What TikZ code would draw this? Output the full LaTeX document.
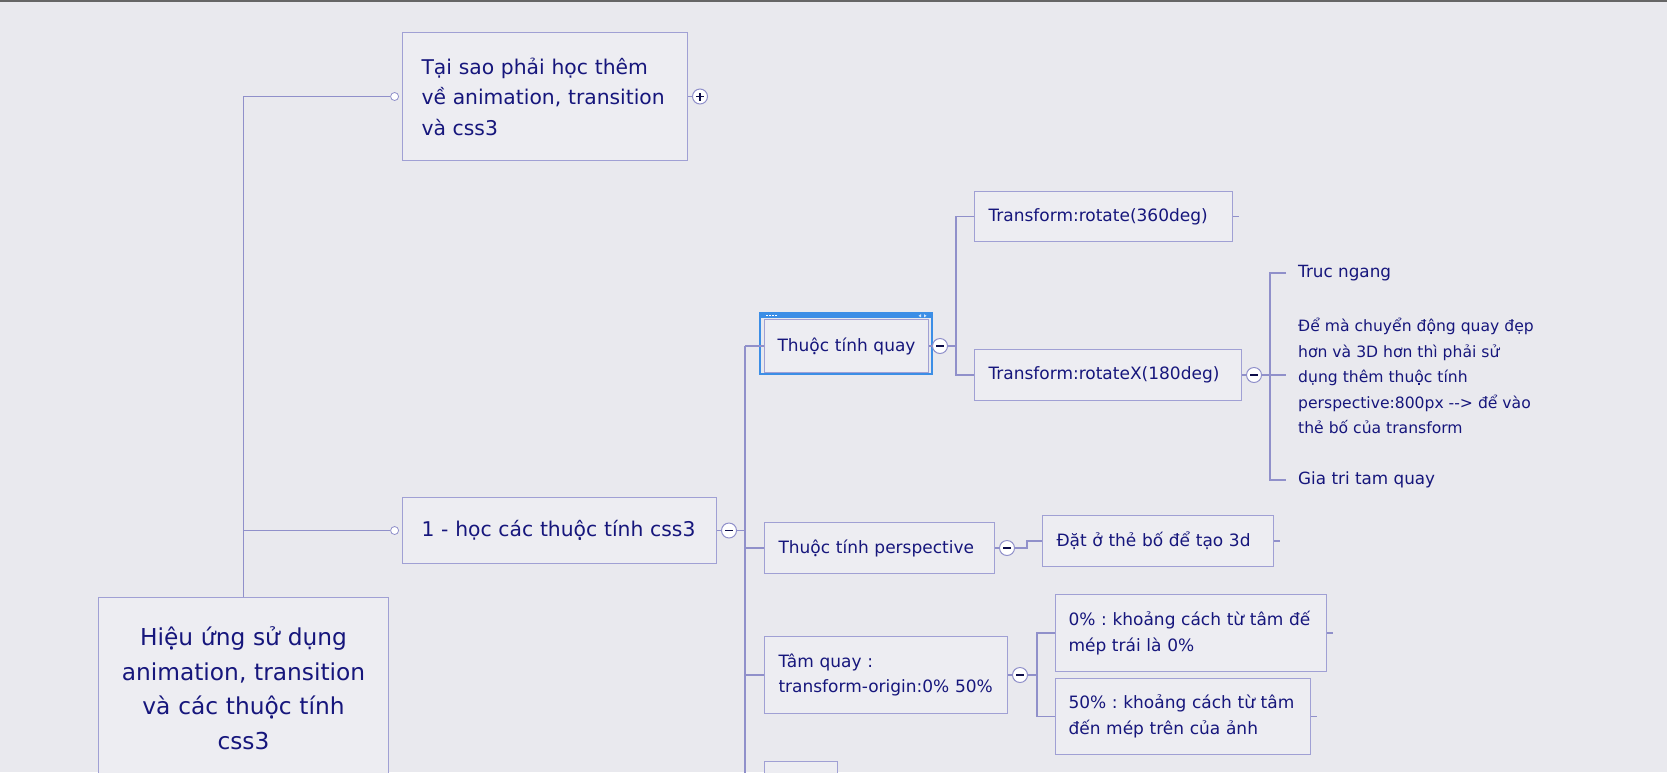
\documentclass[tikz,border=0pt]{standalone}
\usepackage{fontspec}
\setmainfont{DejaVu Sans}
\usetikzlibrary{positioning}
\frenchspacing
\definecolor{paper}{HTML}{E9E9EE}
\definecolor{boxfill}{HTML}{EDEDF2}
\definecolor{boxline}{HTML}{A0A0D4}
\definecolor{wire}{HTML}{9090CA}
\definecolor{ink}{HTML}{16167C}
\definecolor{selblue}{HTML}{3C8EE6}
\tikzset{
	topic/.style={draw=boxline, fill=boxfill, line width=1pt, text=ink, anchor=north west, inner xsep=19pt, inner ysep=0pt, align=left, font=\fontsize{20.3}{30.5}\selectfont},
	sub/.style={draw=boxline, fill=boxfill, line width=1pt, text=ink, anchor=north west, inner xsep=14pt, inner ysep=0pt, align=left, font=\fontsize{17}{25.5}\selectfont},
	rootbox/.style={draw=boxline, fill=boxfill, line width=1pt, text=ink, anchor=north west, inner sep=0pt, align=center, text width=290pt, minimum width=290pt, minimum height=181pt, font=\fontsize{23.3}{34.5}\selectfont},
	note/.style={text=ink, anchor=west, inner sep=0pt, align=left, font=\fontsize{16.8}{25.5}\selectfont},
	link/.style={draw=wire, line width=1.2pt},
	trunk/.style={draw=wire, line width=1.8pt},
	dot/.style={circle, draw=wire, fill=white, line width=0.8pt, inner sep=0pt, minimum size=8pt},
	pm/.style={circle, draw=wire, fill=white, line width=1pt, inner sep=0pt, minimum size=15pt},
	minus/.style={pm, path picture={\draw[ink!60!black, line width=1.8pt] ([xshift=-4pt]path picture bounding box.center) -- ([xshift=4pt]path picture bounding box.center);}},
	plus/.style={pm, path picture={\draw[ink!60!black, line width=1.4pt] ([xshift=-4pt]path picture bounding box.center) -- ([xshift=4pt]path picture bounding box.center) ([yshift=-4pt]path picture bounding box.center) -- ([yshift=4pt]path picture bounding box.center);}}
}
\begin{document}
\begin{tikzpicture}[x=1pt,y=-1pt]
	\fill[paper] (0,0) rectangle (1667,772);
	\useasboundingbox (0,0) rectangle (1667,772);
	\clip (0,0) rectangle (1667,772);
	\draw[gray!80!black, line width=2pt] (0,1) -- (1667,1);

	\node[topic, minimum width=285pt, minimum height=128pt, text width=247pt] (why) at (402,32) {Tại sao phải học thêm\\về animation, transition\\và css3};
	\node[topic, minimum width=314pt, minimum height=66pt, text width=276pt] (learn) at (402,497) {1 - học các thuộc tính css3};
	\node[rootbox] (root) at (98,597) {Hiệu ứng sử dụng\\animation, transition\\và các thuộc tính\\css3};

	\node[sub, minimum width=164pt, minimum height=53pt, inner xsep=5pt, text width=154pt, align=center] (rotprop) at (764,319) {Thuộc tính quay};
	\node[sub, minimum width=258pt, minimum height=50pt, text width=230pt] (rot) at (974,191) {Transform:rotate(360deg)};
	\node[sub, minimum width=267pt, minimum height=51pt, text width=239pt] (rotx) at (974,349) {Transform:rotateX(180deg)};
	\node[sub, minimum width=230pt, minimum height=51pt, text width=202pt] (persp) at (764,522) {Thuộc tính perspective};
	\node[sub, minimum width=231pt, minimum height=51pt, text width=203pt] (parent) at (1042,515) {Đặt ở thẻ bố để tạo 3d};
	\node[sub, minimum width=243pt, minimum height=77pt, text width=215pt] (origin) at (764,636) {Tâm quay :\\transform-origin:0\%~50\%};
	\node[sub, minimum width=271pt, minimum height=77pt, inner xsep=13pt, text width=245pt] (zero) at (1055,594) {0\% : khoảng cách từ tâm~đế\\mép trái là 0\%};
	\node[sub, minimum width=255pt, minimum height=76pt, inner xsep=13pt, text width=229pt] (fifty) at (1055,678) {50\% : khoảng cách từ tâm\\đến mép trên của ảnh};
	\node[sub, minimum width=73pt, minimum height=40pt] (next) at (764,761) {};

	\node[note] (axis) at (1298,273) {Truc ngang};
	\node[note, font=\fontsize{15.6}{25.5}\selectfont] (hint) at (1298,376) {Để mà chuyển động quay đẹp\\hơn và 3D hơn thì phải sử\\dụng thêm thuộc tính\\perspective:800px -{}-> để vào\\thẻ bố của transform};
	\node[note] (pivot) at (1298,480) {Gia tri tam quay};

	\draw[selblue, line width=1.5pt] ([shift={(-4,-6)}]rotprop.north west) rectangle ([shift={(3,1)}]rotprop.south east);
	\fill[selblue] ([shift={(-4,-6)}]rotprop.north west) rectangle ([shift={(3,-1)}]rotprop.north east);
	\foreach \i in {0,...,3}
		\fill[white] ([shift={(2+3*\i,-4.5)}]rotprop.north west) rectangle ++(1.5,1.5);
	\fill[white!80!selblue] ([shift={(-8,-4.8)}]rotprop.north east) -- ++(-2.5,1.6) -- ++(2.5,1.6) -- cycle
		([shift={(-5,-4.8)}]rotprop.north east) -- ++(2.5,1.6) -- ++(-2.5,1.6) -- cycle;

	\node[dot, left=3pt of why] (whydot) {};
	\node[dot, left=3pt of learn] (learndot) {};
	\node[plus, right=4pt of why] (whyplus) {};
	\node[minus, right=4pt of learn] (learnminus) {};
	\node[minus, right=3pt of rotprop] (rotpropminus) {};
	\node[minus, right=4pt of rotx] (rotxminus) {};
	\node[minus, right=4pt of persp] (perspminus) {};
	\node[minus, right=4pt of origin] (originminus) {};

	\coordinate (spine) at (745,0);
	\coordinate (fork) at (956,0);
	\coordinate (split) at (1270,0);
	\coordinate (tick) at (1286,0);
	\coordinate (branch) at (1037,0);

	\draw[trunk] (root.north) |- (whydot);
	\draw[trunk] (root.north |- learndot) -- (learndot);
	\draw[link] (why) -- (whyplus);
	\draw[link] (learn) -- (learnminus);
	\draw[link] (learnminus) -- (spine |- learnminus);
	\draw[link] (spine |- rotprop.west) -- (spine |- next.west);
	\foreach \n in {rotprop,persp,origin,next}
		\draw[link] (spine |- \n.west) -- (\n.west);

	\draw[link] (rotprop) -- (rotpropminus);
	\draw[link] (rotpropminus) -- (fork |- rotpropminus);
	\draw[link] (rot.west) -| (fork |- rotx.west) -- (rotx.west);

	\draw[link] (rotx) -- (rotxminus);
	\draw[link] (rotxminus) -- (tick |- rotxminus);
	\draw[link] (tick |- axis.west) -| (split |- pivot.west) -- (tick |- pivot.west);

	\draw[link] (persp) -- (perspminus);
	\draw[link] (perspminus.east) -- ++(12,0) |- (parent.west);

	\draw[link] (origin) -- (originminus);
	\draw[link] (originminus) -- (branch |- originminus);
	\draw[link] (zero.west) -| (branch |- fifty.west) -- (fifty.west);

	\foreach \n in {rot,parent,zero,fifty}
		\draw[link] (\n.east) -- ++(6,0);
\end{tikzpicture}
\end{document}
